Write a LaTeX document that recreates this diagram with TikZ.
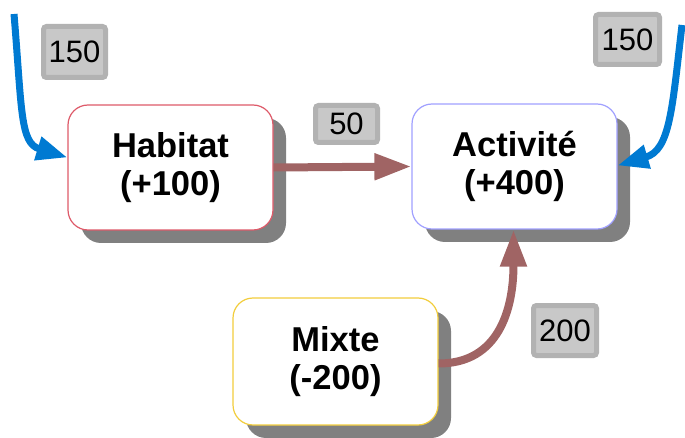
\documentclass[tikz,border=0pt]{standalone}
\usepackage{fontspec}
\setmainfont{Liberation Sans}
\usetikzlibrary{arrows.meta,shadows}
\definecolor{shadowgray}{RGB}{128,128,128}
\definecolor{habred}{RGB}{222,90,105}
\definecolor{actblue}{RGB}{160,160,255}
\definecolor{mixyellow}{RGB}{242,205,60}
\definecolor{flowbrown}{RGB}{160,100,100}
\definecolor{flowblue}{RGB}{0,122,210}
\definecolor{lblfill}{RGB}{200,200,200}
\definecolor{lbldraw}{RGB}{178,178,178}
\tikzset{
  zonebox/.style={rounded corners=20pt, fill=white, line width=1.2pt,
    minimum width=205pt, minimum height=125pt, align=center,
    font=\bfseries\fontsize{34.5}{38}\selectfont,
    drop shadow={shadow xshift=13pt, shadow yshift=-13pt, fill=shadowgray, opacity=1}},
  valbox/.style={rounded corners=3pt, fill=lblfill, draw=lbldraw, line width=5pt,
    inner sep=0pt, font=\fontsize{31}{33}\selectfont},
  brownflow/.style={draw=flowbrown, line width=8pt, -{Triangle[length=37pt,width=25pt]}},
  blueflow/.style={draw=flowblue, line width=7pt, -{Triangle[length=31pt,width=23pt]}}
}
\begin{document}
\begin{tikzpicture}[x=1pt,y=-1pt]
\useasboundingbox (0,0) rectangle (685,438);
\node[zonebox, draw=habred] (hab) at (170.5,167.5) {Habitat\\(+100)};
\node[zonebox, draw=actblue] (act) at (514.5,166.5) {Activité\\(+400)};
\node[zonebox, draw=mixyellow, minimum height=127pt] (mix) at (335.5,361.5) {Mixte\\(-200)};

\node[valbox, minimum width=62pt, minimum height=51pt] (v1) at (74.5,52) {150};
\node[valbox, minimum width=64pt, minimum height=50pt] (v2) at (627.5,39.5) {150};
\node[valbox, minimum width=62pt, minimum height=37pt] (v3) at (346.5,124) {50};
\node[valbox, minimum width=63pt, minimum height=50pt] (v4) at (565,330.5) {200};

\coordinate (s1) at (14,14);
\coordinate (s2) at (682,25);
\draw[blueflow] (s1) .. controls (22,110) and (20,143) .. ([yshift=10pt]hab.west);
\draw[blueflow] (s2) .. controls (672,110) and (670,150) .. ([yshift=1pt]act.east);
\draw[brownflow] (hab.east) -- (act.west);
\draw[brownflow] ([yshift=-2pt]mix.east) .. controls +(60,0) and +(0,80) .. ([xshift=-1pt]act.south);
\end{tikzpicture}
\end{document}
